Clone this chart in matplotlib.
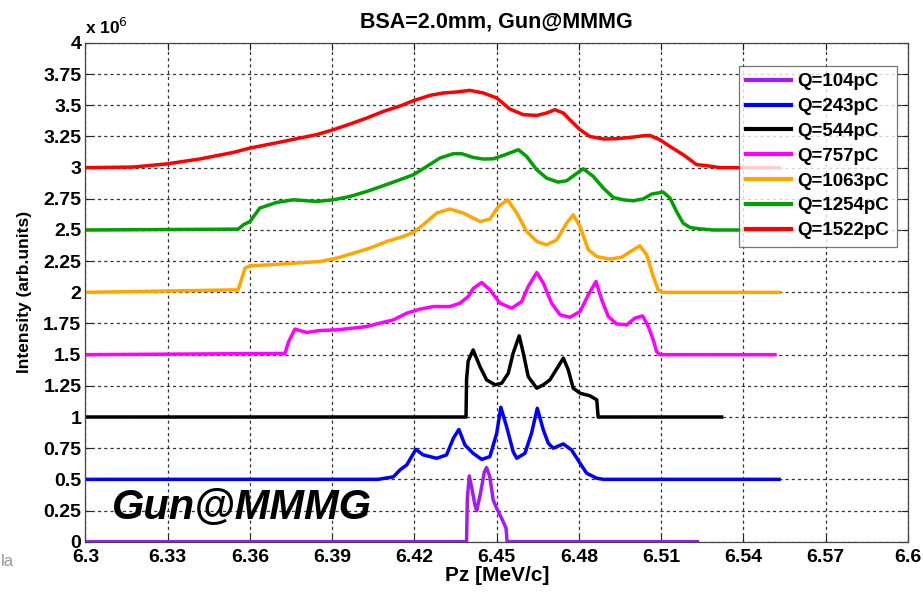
import matplotlib
matplotlib.use("Agg")
import matplotlib.pyplot as plt
from matplotlib.ticker import FixedLocator, FuncFormatter

plt.rcParams['font.family'] = ['Liberation Sans', 'DejaVu Sans']

title = "BSA=2.0mm, Gun@MMMG"
xlabel = "Pz [MeV/c]"
ylabel = "Intensity (arb.units)"
annotation = "Gun@MMMG"

labels = ["Q=104pC", "Q=243pC", "Q=544pC", "Q=757pC", "Q=1063pC", "Q=1254pC", "Q=1522pC"]
colors = ["#A31AF5", "#0000FF", "#000000", "#FF00FF", "#FFA500", "#00A000", "#FF0000"]

# Intensity values in units of 1e6
x_104 = [6.300, 6.4390, 6.4393, 6.4400, 6.4410, 6.4420, 6.4427, 6.4440, 6.4455, 6.4463, 6.4475,
         6.4487, 6.4500, 6.4518, 6.4534, 6.4538, 6.5232]
y_104 = [0, 0, 0.35, 0.527, 0.42, 0.30, 0.249, 0.38, 0.56, 0.594, 0.52,
         0.335, 0.268, 0.188, 0.108, 0, 0]

x_243 = [6.300, 6.4067, 6.4123, 6.4147, 6.4172, 6.4205, 6.4232, 6.4281, 6.4317, 6.4342, 6.4362,
         6.4384, 6.4414, 6.4445, 6.4475, 6.4500, 6.4515, 6.4536, 6.4560, 6.4573, 6.4603, 6.4627,
         6.4648, 6.4670, 6.4688, 6.4706, 6.4743, 6.4773, 6.4804, 6.4828, 6.4865, 6.4889, 6.553]
y_243 = [0.5, 0.5, 0.52, 0.575, 0.616, 0.740, 0.696, 0.669, 0.696, 0.83, 0.90,
         0.776, 0.709, 0.66, 0.682, 0.87, 1.078, 0.923, 0.722, 0.669, 0.709, 0.87,
         1.07, 0.896, 0.79, 0.75, 0.784, 0.736, 0.629, 0.549, 0.509, 0.5, 0.5]

x_544 = [6.300, 6.4388, 6.4390, 6.4396, 6.4414, 6.4439, 6.4463, 6.4494, 6.4518, 6.4542, 6.4560,
         6.4582, 6.4597, 6.4615, 6.4646, 6.4670, 6.4694, 6.4724, 6.4743, 6.4761, 6.4779, 6.4804,
         6.4840, 6.4865, 6.4870, 6.532]
y_544 = [1.0, 1.0, 1.30, 1.45, 1.538, 1.404, 1.298, 1.258, 1.271, 1.35, 1.512,
         1.651, 1.512, 1.324, 1.231, 1.258, 1.298, 1.404, 1.472, 1.378, 1.231, 1.191,
         1.17, 1.138, 1.0, 1.0]

x_757 = [6.300, 6.3728, 6.3740, 6.3764, 6.3807, 6.3855, 6.3916, 6.3977, 6.4026, 6.4074, 6.4123,
         6.4172, 6.4220, 6.4269, 6.4329, 6.4366, 6.4396, 6.4414, 6.4445, 6.4475, 6.4512, 6.4555,
         6.4591, 6.4615, 6.4646, 6.4670, 6.4700, 6.4731, 6.4767, 6.4804, 6.4834, 6.4862, 6.4883,
         6.4907, 6.4937, 6.4974, 6.5004, 6.5032, 6.5053, 6.5071, 6.5083, 6.5095, 6.5515]
y_757 = [1.5, 1.51, 1.60, 1.705, 1.678, 1.694, 1.699, 1.713, 1.726, 1.753, 1.779,
         1.833, 1.865, 1.886, 1.886, 1.913, 1.966, 2.03, 2.079, 2.02, 1.913, 1.873,
         1.926, 2.047, 2.159, 2.074, 1.913, 1.82, 1.80, 1.846, 1.98, 2.087, 1.94,
         1.806, 1.747, 1.739, 1.793, 1.811, 1.726, 1.619, 1.525, 1.5, 1.5]

x_1063 = [6.300, 6.3557, 6.3582, 6.3600, 6.3673, 6.3794, 6.3855, 6.3916, 6.3977, 6.4038, 6.4099,
          6.4159, 6.4196, 6.4232, 6.4281, 6.4329, 6.4378, 6.4414, 6.4439, 6.4475, 6.4506, 6.4540,
          6.4573, 6.4609, 6.4646, 6.4682, 6.4719, 6.4755, 6.4779, 6.4804, 6.4834, 6.4865, 6.4913,
          6.4956, 6.4998, 6.5022, 6.5047, 6.5071, 6.5089, 6.5102, 6.553]
y_1063 = [2.0, 2.02, 2.194, 2.213, 2.221, 2.239, 2.247, 2.274, 2.314, 2.355, 2.408,
          2.448, 2.48, 2.542, 2.636, 2.668, 2.636, 2.596, 2.568, 2.587, 2.689, 2.742,
          2.636, 2.489, 2.408, 2.381, 2.421, 2.555, 2.622, 2.528, 2.341, 2.287, 2.266,
          2.282, 2.341, 2.373, 2.301, 2.127, 2.02, 2.0, 2.0]

x_1254 = [6.300, 6.3557, 6.3576, 6.3600, 6.3636, 6.3697, 6.3758, 6.3843, 6.3904, 6.3965, 6.4026,
          6.4086, 6.4147, 6.4196, 6.4245, 6.4293, 6.4342, 6.4372, 6.4414, 6.4451, 6.4487, 6.4530,
          6.4579, 6.4609, 6.4646, 6.4682, 6.4724, 6.4755, 6.4785, 6.4816, 6.4852, 6.4889, 6.4925,
          6.4962, 6.4998, 6.5035, 6.5065, 6.5107, 6.5132, 6.5156, 6.5180, 6.5205, 6.5241, 6.5290,
          6.553]
y_1254 = [2.5, 2.507, 2.542, 2.568, 2.676, 2.721, 2.742, 2.729, 2.742, 2.769, 2.809,
          2.855, 2.903, 2.943, 3.01, 3.077, 3.112, 3.112, 3.082, 3.069, 3.071, 3.103,
          3.144, 3.09, 2.983, 2.916, 2.884, 2.895, 2.943, 2.991, 2.93, 2.836, 2.761,
          2.742, 2.734, 2.75, 2.788, 2.804, 2.756, 2.648, 2.555, 2.52, 2.509, 2.5,
          2.5]

x_1522 = [6.300, 6.3174, 6.3296, 6.3418, 6.3539, 6.3600, 6.3721, 6.3843, 6.3898, 6.3965, 6.4026,
          6.4086, 6.4147, 6.4196, 6.4257, 6.4305, 6.4354, 6.4402, 6.4451, 6.4500, 6.4548, 6.4597,
          6.4646, 6.4682, 6.4712, 6.4743, 6.4773, 6.4804, 6.4840, 6.4889, 6.4937, 6.4986, 6.5035,
          6.5059, 6.5095, 6.5132, 6.5180, 6.5205, 6.5229, 6.5266, 6.5314, 6.553]
y_1522 = [3.0, 3.005, 3.03, 3.07, 3.122, 3.157, 3.21, 3.265, 3.30, 3.35, 3.398,
          3.451, 3.494, 3.537, 3.58, 3.599, 3.607, 3.62, 3.599, 3.559, 3.47, 3.425,
          3.419, 3.438, 3.465, 3.438, 3.371, 3.304, 3.25, 3.23, 3.232, 3.242, 3.256,
          3.258, 3.224, 3.17, 3.104, 3.064, 3.024, 3.016, 3.0, 3.0]

xs = [x_104, x_243, x_544, x_757, x_1063, x_1254, x_1522]
ys = [y_104, y_243, y_544, y_757, y_1063, y_1254, y_1522]

x_ticks = [6.3, 6.33, 6.36, 6.39, 6.42, 6.45, 6.48, 6.51, 6.54, 6.57, 6.6]
y_ticks = [0, 0.25, 0.5, 0.75, 1, 1.25, 1.5, 1.75, 2, 2.25, 2.5, 2.75, 3, 3.25, 3.5, 3.75, 4]
scale = 1e6

fig = plt.figure(figsize=(9.23, 5.92), dpi=100)
ax = fig.add_axes([0.0926, 0.085, 0.8911, 0.8424])

for x, y, c, lab in zip(xs, ys, colors, labels):
    ax.plot(x, [v * scale for v in y], color=c, lw=2.5, label=lab, solid_joinstyle='round')

ax.set_xlim(6.3, 6.6)
ax.set_ylim(0, 4 * scale)
ax.xaxis.set_major_locator(FixedLocator(x_ticks))
ax.yaxis.set_major_locator(FixedLocator([t * scale for t in y_ticks]))
ax.xaxis.set_major_formatter(FuncFormatter(lambda v, p: f"{v:g}"))
ax.yaxis.set_major_formatter(FuncFormatter(lambda v, p: f"{v / scale:g}"))
ax.tick_params(direction='in', top=True, right=True, length=5, width=0.8,
               labelsize=14, colors='#222222', labelcolor='black')
ax.tick_params(axis='x', pad=5)
ax.tick_params(axis='y', pad=3)
for lbl in ax.get_xticklabels() + ax.get_yticklabels():
    lbl.set_fontweight('bold')

ax.grid(True, color='#333333', linestyle=(0, (2.5, 2.5)), linewidth=0.9)
for s in ax.spines.values():
    s.set_color('#444444')
    s.set_linewidth(0.9)

ax.set_title(title, fontsize=15.5, fontweight='bold', pad=11)
ax.set_xlabel(xlabel, fontsize=15, fontweight='bold', labelpad=0)
ax.set_ylabel(ylabel, fontsize=12.5, fontweight='bold', labelpad=8)

ax.text(0.0, 1.012, r"x 10$^{6}$", transform=ax.transAxes, fontsize=12.5,
        fontweight='bold', ha='left', va='bottom')

ax.text(6.357, 0.27 * scale, annotation, fontsize=30, fontweight='bold', fontstyle='italic',
        ha='center', va='center')

fig.text(0.5 / 923, 1 - 561 / 592, "la", color='#999999', fontsize=12, ha='left', va='center')

leg = ax.legend(loc='upper right', bbox_to_anchor=(0.9866, 0.9543),
                prop={'weight': 'bold', 'size': 13.5}, frameon=True, fancybox=False,
                handlelength=2.4, handletextpad=0.35, labelspacing=0.41, borderpad=0.4,
                borderaxespad=0)
leg.get_frame().set_edgecolor('#555555')
leg.get_frame().set_linewidth(0.9)
for line in leg.get_lines():
    line.set_linewidth(3)

fig.savefig("out.png", dpi=100)
